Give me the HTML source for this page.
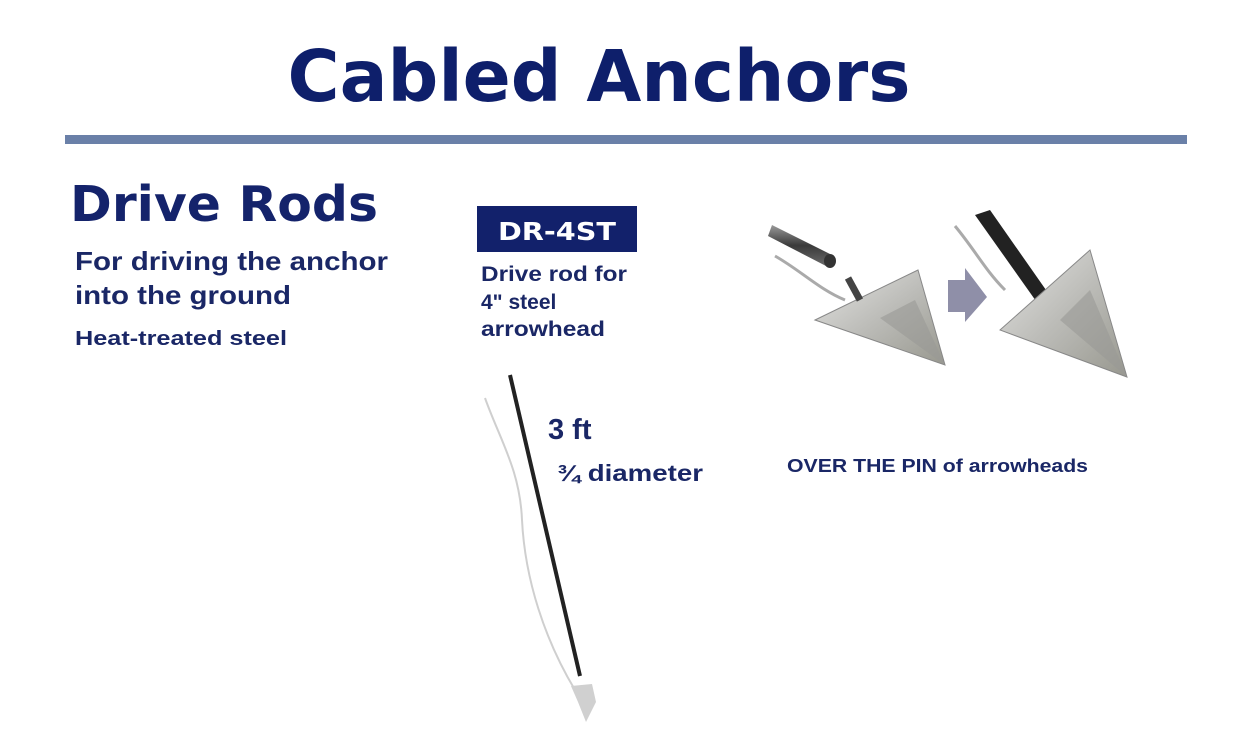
<!DOCTYPE html>
<html><head><meta charset="utf-8"><style>
html,body{margin:0;padding:0;background:#fff;width:1240px;height:748px;overflow:hidden}
svg{display:block}
</style></head><body>
<svg width="1240" height="748" viewBox="0 0 1240 748" xmlns="http://www.w3.org/2000/svg">
<defs>
<linearGradient id="steel" x1="0" y1="0" x2="1" y2="1">
<stop offset="0" stop-color="#e4e4e2"/><stop offset="0.5" stop-color="#bcbcb8"/><stop offset="1" stop-color="#98988f"/>
</linearGradient>
<linearGradient id="tube" x1="0" y1="0" x2="0" y2="1">
<stop offset="0" stop-color="#9a9a9a"/><stop offset="0.5" stop-color="#3a3a3a"/><stop offset="1" stop-color="#6a6a6a"/>
</linearGradient>
</defs>
<text x="599" y="101" text-anchor="middle" font-family="DejaVu Sans, sans-serif" font-weight="bold" font-size="71" fill="#0e1f6b" textLength="623" lengthAdjust="spacingAndGlyphs">Cabled Anchors</text>
<rect x="65" y="135" width="1122" height="9" fill="#6a80a8"/>

<text x="70" y="221" font-family="DejaVu Sans, sans-serif" font-weight="bold" font-size="49" fill="#14236b" textLength="308" lengthAdjust="spacingAndGlyphs">Drive Rods</text>
<g font-family="Liberation Sans, sans-serif" font-weight="bold" fill="#1a2766">
<text x="75" y="270" font-size="26" textLength="313" lengthAdjust="spacingAndGlyphs">For driving the anchor</text>
<text x="75" y="304" font-size="26" textLength="216" lengthAdjust="spacingAndGlyphs">into the ground</text>
<text x="75" y="345" font-size="20" textLength="212" lengthAdjust="spacingAndGlyphs">Heat-treated steel</text>
</g>

<rect x="477" y="206" width="160" height="46" fill="#12216b"/>
<text x="557" y="240" text-anchor="middle" font-family="DejaVu Sans, sans-serif" font-weight="bold" font-size="25" fill="#fff" textLength="118" lengthAdjust="spacingAndGlyphs">DR-4ST</text>
<g font-family="Liberation Sans, sans-serif" font-weight="bold" fill="#1a2766" font-size="21">
<text x="481" y="281" textLength="146" lengthAdjust="spacingAndGlyphs">Drive rod for</text>
<text x="481" y="309">4" steel</text>
<text x="481" y="336" textLength="124" lengthAdjust="spacingAndGlyphs">arrowhead</text>
</g>

<!-- rod -->
<path d="M485,398 C500,440 520,470 522,520 C525,580 545,640 575,690" stroke="#cfcfcf" stroke-width="2" fill="none"/>
<line x1="510" y1="375" x2="580" y2="676" stroke="#222" stroke-width="4"/>
<path d="M571,686 L592,684 L596,702 L586,722 L578,702 Z" fill="#d0d0d0"/>

<text x="548" y="439" font-family="Liberation Sans, sans-serif" font-weight="bold" font-size="29" fill="#1a2766">3 ft</text>
<text x="557" y="481" font-family="Liberation Sans, sans-serif" font-weight="bold" font-size="23" fill="#1a2766" textLength="146" lengthAdjust="spacingAndGlyphs">¾ diameter</text>

<!-- arrowhead 1 -->
<path d="M775,256 C800,270 820,290 845,300" stroke="#aaa" stroke-width="3" fill="none"/>
<path d="M772,225 L832,255 L826,266 L768,236 Z" fill="url(#tube)"/>
<ellipse cx="830" cy="261" rx="6" ry="7" fill="#333"/>
<path d="M815,320 L918,270 L945,365 Z" fill="url(#steel)" stroke="#888" stroke-width="1"/>
<line x1="848" y1="278" x2="860" y2="300" stroke="#444" stroke-width="7"/>
<path d="M880,318 L945,365 L915,300 Z" fill="#9a9a96" opacity="0.6"/>
<!-- arrow -->
<path d="M948,280 L965,280 L965,268 L987,297 L965,322 L965,312 L948,312 Z" fill="#8f8fa8"/>
<!-- arrowhead 2 -->
<path d="M955,226 C975,250 985,270 1005,290" stroke="#aaa" stroke-width="3" fill="none"/>
<path d="M975,215 L990,210 L1060,310 L1048,318 Z" fill="#222"/>
<path d="M1000,330 L1090,250 L1127,377 Z" fill="url(#steel)" stroke="#888" stroke-width="1"/>
<path d="M1060,320 L1127,377 L1090,290 Z" fill="#9a9a96" opacity="0.6"/>

<text x="787" y="472" font-family="Liberation Sans, sans-serif" font-weight="bold" font-size="18" fill="#1a2766" textLength="301" lengthAdjust="spacingAndGlyphs">OVER THE PIN of arrowheads</text>
</svg>
</body></html>
